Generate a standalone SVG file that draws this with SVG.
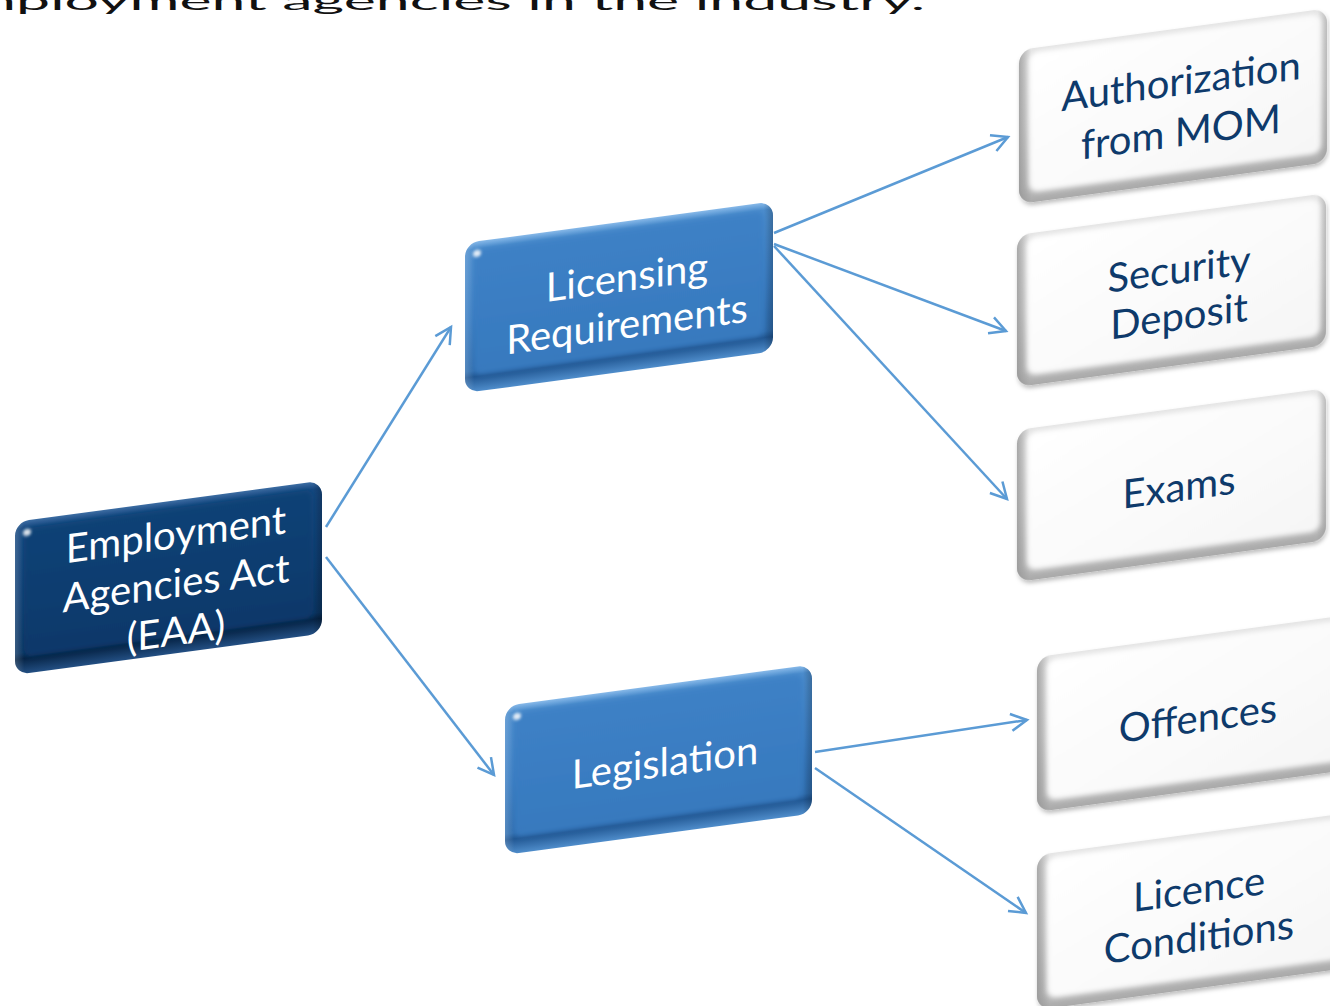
<svg xmlns="http://www.w3.org/2000/svg" width="1330" height="1006" viewBox="0 0 1330 1006">
  <defs>
    <style>
      .lbl { font-family: Lato, "Open Sans", "Liberation Sans", sans-serif; font-size: 40px; text-anchor: middle; }
      .lbl-light { fill: #ffffff; }
      .lbl-dark { fill: #0e3a6b; }
      .navy-edge { fill: url(#navyEdge); }
      .navy-face { fill: url(#navyFace); filter: url(#soft); }
      .blue-edge { fill: url(#blueEdge); }
      .blue-face { fill: url(#blueFace); filter: url(#soft); }
      .side { fill: url(#sideShade); }
      .spec { fill: #ffffff; opacity: 0.85; filter: url(#glow); }
      .white-edge { fill: url(#whiteEdge); filter: url(#drop); }
      .white-side { fill: url(#whiteSide); }
      .white-face { fill: url(#whiteFace); filter: url(#soft); }
      .conn { fill: none; stroke: #5b9bd5; stroke-width: 2.5; marker-end: url(#arrow); }
      .title { font-family: Lato, "Open Sans", "Liberation Sans", sans-serif; font-size: 64px; fill: #111111; }
    </style>

    <!-- bevel edge and face fills -->
    <linearGradient id="navyEdge" x1="0" y1="0" x2="0" y2="1">
      <stop offset="0" stop-color="#3c6ca2"/>
      <stop offset="0.05" stop-color="#164880"/>
      <stop offset="0.5" stop-color="#0f3e73"/>
      <stop offset="0.86" stop-color="#0b3562"/>
      <stop offset="0.9" stop-color="#062446"/>
      <stop offset="1" stop-color="#234f83"/>
    </linearGradient>
    <linearGradient id="navyFace" x1="0" y1="0" x2="0" y2="1">
      <stop offset="0" stop-color="#114276"/>
      <stop offset="1" stop-color="#0d386a"/>
    </linearGradient>
    <linearGradient id="blueEdge" x1="0" y1="0" x2="0" y2="1">
      <stop offset="0" stop-color="#86b8e8"/>
      <stop offset="0.05" stop-color="#4c8dcd"/>
      <stop offset="0.5" stop-color="#3a7dc2"/>
      <stop offset="0.86" stop-color="#2f6dae"/>
      <stop offset="0.9" stop-color="#215793"/>
      <stop offset="1" stop-color="#4f8dcb"/>
    </linearGradient>
    <linearGradient id="blueFace" x1="0" y1="0" x2="0" y2="1">
      <stop offset="0" stop-color="#3d81c6"/>
      <stop offset="1" stop-color="#3779be"/>
    </linearGradient>
    <linearGradient id="sideShade" x1="0" y1="0" x2="1" y2="0">
      <stop offset="0" stop-color="#ffffff" stop-opacity="0.18"/>
      <stop offset="0.03" stop-color="#ffffff" stop-opacity="0"/>
      <stop offset="0.97" stop-color="#000000" stop-opacity="0"/>
      <stop offset="1" stop-color="#000000" stop-opacity="0.22"/>
    </linearGradient>
    <linearGradient id="whiteEdge" x1="0" y1="0" x2="0" y2="1">
      <stop offset="0" stop-color="#e4e4e4"/>
      <stop offset="0.5" stop-color="#d6d6d6"/>
      <stop offset="0.9" stop-color="#bdbdbd"/>
      <stop offset="1" stop-color="#a9a9a9"/>
    </linearGradient>
    <linearGradient id="whiteSide" x1="0" y1="0" x2="1" y2="0">
      <stop offset="0" stop-color="#8f8f8f" stop-opacity="0.7"/>
      <stop offset="0.04" stop-color="#8f8f8f" stop-opacity="0"/>
      <stop offset="0.97" stop-color="#8f8f8f" stop-opacity="0"/>
      <stop offset="1" stop-color="#8f8f8f" stop-opacity="0.45"/>
    </linearGradient>
    <linearGradient id="whiteFace" x1="0" y1="0" x2="1" y2="1">
      <stop offset="0" stop-color="#ffffff"/>
      <stop offset="1" stop-color="#f6f6f6"/>
    </linearGradient>

    <filter id="soft" x="-10%" y="-10%" width="120%" height="120%">
      <feGaussianBlur stdDeviation="2.5"/>
    </filter>
    <filter id="glow" x="-100%" y="-100%" width="300%" height="300%">
      <feGaussianBlur stdDeviation="1.5"/>
    </filter>
    <filter id="drop" x="-10%" y="-10%" width="120%" height="130%">
      <feDropShadow dx="1" dy="3" stdDeviation="2" flood-color="#000000" flood-opacity="0.25"/>
    </filter>

    <marker id="arrow" markerUnits="userSpaceOnUse" markerWidth="22" markerHeight="22" refX="19" refY="11" orient="auto">
      <path d="M3,2.5 L19,11 L3,19.5" fill="none" stroke="#5b9bd5" stroke-width="2.5" stroke-linejoin="miter"/>
    </marker>
  </defs>

  <rect width="1330" height="1006" fill="#ffffff"/>

  <!-- heading line running off the top edge -->
  <text class="title" transform="translate(0,10) scale(1,0.4)" x="-66" y="0" textLength="991" lengthAdjust="spacingAndGlyphs">employment agencies in the industry.</text>

  <!-- connectors -->
  <g id="connectors">
    <line class="conn" x1="326" y1="527" x2="451" y2="327"/>
    <line class="conn" x1="326" y1="557" x2="494" y2="775"/>
    <line class="conn" x1="774" y1="233" x2="1008" y2="137"/>
    <line class="conn" x1="774" y1="244" x2="1006" y2="331"/>
    <line class="conn" x1="774" y1="246" x2="1007" y2="499"/>
    <line class="conn" x1="815" y1="752" x2="1027" y2="720"/>
    <line class="conn" x1="815" y1="768" x2="1026" y2="913"/>
  </g>

  <!-- root -->
  <g id="node-eaa" transform="translate(15,522) skewY(-7.7)">
    <rect class="navy-edge" width="307" height="153" rx="14"/>
    <rect class="side" width="307" height="153" rx="14"/>
    <rect class="navy-face" x="9" y="8" width="289" height="128" rx="8"/>
    <ellipse class="spec" cx="12" cy="12" rx="4" ry="3.5"/>
    <text class="lbl lbl-light" x="161" y="48">Employment</text>
    <text class="lbl lbl-light" x="161" y="97">Agencies Act</text>
    <text class="lbl lbl-light" x="161" y="145">(EAA)</text>
  </g>

  <!-- second level -->
  <g id="node-licensing" transform="translate(465,243) skewY(-7.7)">
    <rect class="blue-edge" width="308" height="150" rx="14"/>
    <rect class="side" width="308" height="150" rx="14"/>
    <rect class="blue-face" x="9" y="8" width="290" height="125" rx="8"/>
    <ellipse class="spec" cx="12" cy="12" rx="4" ry="3.5"/>
    <text class="lbl lbl-light" x="162" y="70">Licensing</text>
    <text class="lbl lbl-light" x="162" y="117">Requirements</text>
  </g>

  <g id="node-legislation" transform="translate(505,706) skewY(-7.7)">
    <rect class="blue-edge" width="307" height="149" rx="14"/>
    <rect class="side" width="307" height="149" rx="14"/>
    <rect class="blue-face" x="9" y="8" width="289" height="124" rx="8"/>
    <ellipse class="spec" cx="12" cy="12" rx="4" ry="3.5"/>
    <text class="lbl lbl-light" x="160" y="92">Legislation</text>
  </g>

  <!-- third level -->
  <g id="node-authorization" transform="translate(1019,50) skewY(-7.7)">
    <rect class="white-edge" width="308" height="154" rx="14"/>
    <rect class="white-side" width="308" height="154" rx="14"/>
    <rect class="white-face" x="10" y="4" width="292" height="140" rx="9"/>
    <text class="lbl lbl-dark" x="162" y="67">Authorization</text>
    <text class="lbl lbl-dark" x="162" y="118">from MOM</text>
  </g>

  <g id="node-security" transform="translate(1017,235) skewY(-7.7)">
    <rect class="white-edge" width="309" height="152" rx="14"/>
    <rect class="white-side" width="309" height="152" rx="14"/>
    <rect class="white-face" x="10" y="4" width="293" height="138" rx="9"/>
    <text class="lbl lbl-dark" x="162" y="70">Security</text>
    <text class="lbl lbl-dark" x="162" y="117">Deposit</text>
  </g>

  <g id="node-exams" transform="translate(1017,430) skewY(-7.7)">
    <rect class="white-edge" width="309" height="152" rx="14"/>
    <rect class="white-side" width="309" height="152" rx="14"/>
    <rect class="white-face" x="10" y="4" width="293" height="138" rx="9"/>
    <text class="lbl lbl-dark" x="162" y="93">Exams</text>
  </g>

  <g id="node-offences" transform="translate(1037,657) skewY(-7.7)">
    <rect class="white-edge" width="312" height="155" rx="14"/>
    <rect class="white-side" width="312" height="155" rx="14"/>
    <rect class="white-face" x="10" y="4" width="296" height="141" rx="9"/>
    <text class="lbl lbl-dark" x="161" y="97">Offences</text>
  </g>

  <g id="node-conditions" transform="translate(1037,855) skewY(-7.7)">
    <rect class="white-edge" width="312" height="155" rx="14"/>
    <rect class="white-side" width="312" height="155" rx="14"/>
    <rect class="white-face" x="10" y="4" width="296" height="141" rx="9"/>
    <text class="lbl lbl-dark" x="162" y="70">Licence</text>
    <text class="lbl lbl-dark" x="162" y="118">Conditions</text>
  </g>
</svg>
